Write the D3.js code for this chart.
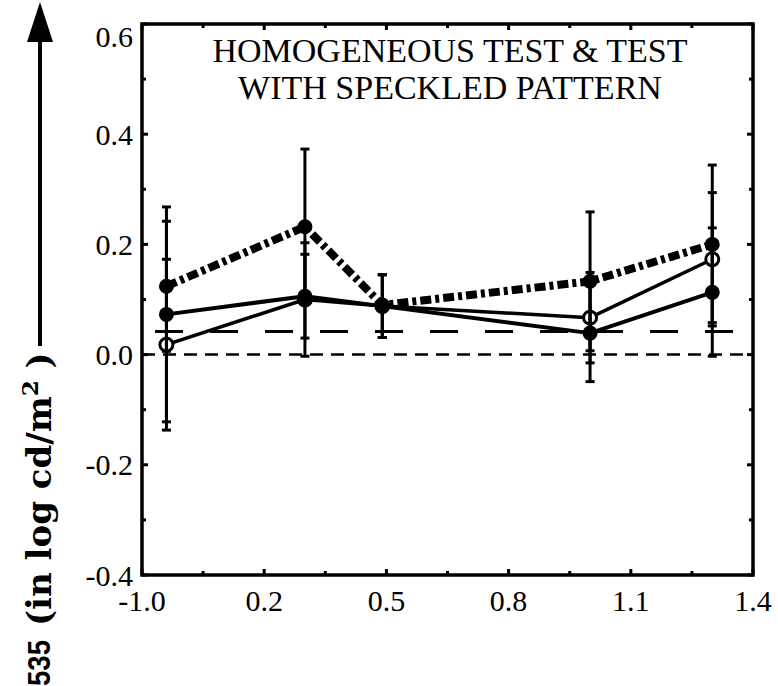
<!DOCTYPE html>
<html>
<head>
<meta charset="utf-8">
<script src="https://cdn.jsdelivr.net/npm/d3@7/dist/d3.min.js"></script>
<style>
  html, body { margin: 0; padding: 0; background: #fff; }
  svg { display: block; }
</style>
</head>
<body>
<script>
// ---------- data ----------
const xValues = [-0.04, 0.30, 0.49, 1.00, 1.30];

const dottedVals = [0.124, 0.232, 0.090, 0.133, 0.200];
const dottedHi   = [0.242, 0.373, 0.145, 0.259, 0.344];
const dottedLo   = [0.006, 0.091, 0.031, 0.007, 0.058];

const solidVals  = [0.073, 0.106, 0.088, 0.039, 0.113];
const solidHi    = [0.268, 0.182, 0.145, 0.127, 0.230];
const solidLo    = [-0.122, 0.030, 0.031, -0.049, -0.003];

const openVals   = [0.018, 0.100, 0.088, 0.067, 0.173];
const openHi     = [0.173, 0.203, 0.145, 0.149, 0.294];
const openLo     = [-0.137, -0.003, 0.031, -0.015, 0.052];

const xTickValues = [-0.1, 0.2, 0.5, 0.8, 1.1, 1.4];
const xTickLabels = ["-1.0", "0.2", "0.5", "0.8", "1.1", "1.4"];
const xMinorTicks = [0.05, 0.35, 0.65, 0.95, 1.25];
const yTickValues = [-0.4, -0.2, 0.0, 0.2, 0.4, 0.6];
const yTickLabels = ["-0.4", "-0.2", "0.0", "0.2", "0.4", "0.6"];
const yMinorTicks = [-0.3, -0.1, 0.1, 0.3, 0.5];

const refLevel = 0.042;
const refFrom = -0.068, refTo = 1.37;
const titleLines = ["HOMOGENEOUS TEST & TEST", "WITH SPECKLED PATTERN"];

// ---------- layout ----------
const W = 778, H = 686;
const pL = 142, pR = 753, pT = 24, pB = 575;

const svg = d3.select("body").append("svg").attr("width", W).attr("height", H);

const x = d3.scaleLinear().domain([-0.1, 1.4]).range([pL, pR]);
const y = d3.scaleLinear().domain([-0.4, 0.6]).range([pB, pT]);

const serif = "'Liberation Serif', 'DejaVu Serif', serif";

// ---------- reference lines ----------
svg.append("line")
  .attr("x1", x(-0.1)).attr("x2", x(1.4))
  .attr("y1", y(0)).attr("y2", y(0))
  .attr("stroke", "#000").attr("stroke-width", 2.5)
  .attr("stroke-dasharray", "13,8");

svg.append("line")
  .attr("x1", x(refFrom)).attr("x2", x(refTo))
  .attr("y1", y(refLevel)).attr("y2", y(refLevel))
  .attr("stroke", "#000").attr("stroke-width", 3)
  .attr("stroke-dasharray", "28,27");

// ---------- series ----------
const series = [
  { vals: openVals, hi: openHi, lo: openLo, dash: null, width: 3.5, open: true },
  { vals: solidVals, hi: solidHi, lo: solidLo, dash: null, width: 4, open: false },
  { vals: dottedVals, hi: dottedHi, lo: dottedLo, dash: "11,4,4,4", width: 8, open: false }
];

const lineGen = d3.line().x(d => x(d[0])).y(d => y(d[1]));

series.forEach(s => {
  const pts = xValues.map((xv, i) => [xv, s.vals[i]]);
  svg.append("path")
    .attr("d", lineGen(pts))
    .attr("fill", "none")
    .attr("stroke", "#000")
    .attr("stroke-width", s.width)
    .attr("stroke-linejoin", "round")
    .attr("stroke-dasharray", s.dash);
});

series.forEach(s => {
  xValues.forEach((xv, i) => {
    svg.append("circle")
      .attr("cx", x(xv)).attr("cy", y(s.vals[i]))
      .attr("r", s.open ? 6.5 : 7.5)
      .attr("fill", s.open ? "#fff" : "#000")
      .attr("stroke", "#000")
      .attr("stroke-width", s.open ? 3 : 0);
  });
});

// error bars on top
series.forEach(s => {
  xValues.forEach((xv, i) => {
    const g = svg.append("g").attr("stroke", "#000").attr("stroke-width", 3);
    g.append("line")
      .attr("x1", x(xv)).attr("x2", x(xv))
      .attr("y1", y(s.hi[i])).attr("y2", y(s.lo[i]));
    [s.hi[i], s.lo[i]].forEach(v => {
      g.append("line")
        .attr("x1", x(xv) - 4.5).attr("x2", x(xv) + 4.5)
        .attr("y1", y(v)).attr("y2", y(v));
    });
  });
});

// ---------- frame & ticks ----------
svg.append("rect")
  .attr("x", pL).attr("y", pT)
  .attr("width", pR - pL).attr("height", pB - pT)
  .attr("fill", "none").attr("stroke", "#000").attr("stroke-width", 3.5);

const tickG = svg.append("g").attr("stroke", "#000").attr("stroke-width", 3);
function xTick(v, len) {
  tickG.append("line").attr("x1", x(v)).attr("x2", x(v)).attr("y1", pB).attr("y2", pB - len);
  tickG.append("line").attr("x1", x(v)).attr("x2", x(v)).attr("y1", pT).attr("y2", pT + len);
}
function yTick(v, len) {
  tickG.append("line").attr("x1", pL).attr("x2", pL + len).attr("y1", y(v)).attr("y2", y(v));
  tickG.append("line").attr("x1", pR).attr("x2", pR - len).attr("y1", y(v)).attr("y2", y(v));
}
xTickValues.forEach(v => xTick(v, 6));
xMinorTicks.forEach(v => xTick(v, 4));
yTickValues.forEach(v => yTick(v, 6));
yMinorTicks.forEach(v => yTick(v, 4));

// tick labels
svg.append("g").selectAll("text").data(xTickValues).join("text")
  .attr("x", d => x(d)).attr("y", 611)
  .attr("text-anchor", "middle")
  .attr("font-family", serif).attr("font-size", 30)
  .text((d, i) => xTickLabels[i]);

svg.append("g").selectAll("text").data(yTickValues).join("text")
  .attr("x", pL - 9)
  .attr("y", d => Math.max(y(d), 36))
  .attr("dy", "0.35em")
  .attr("text-anchor", "end")
  .attr("font-family", serif).attr("font-size", 30)
  .text((d, i) => yTickLabels[i]);

// title
titleLines.forEach((t, i) => {
  svg.append("text")
    .attr("x", 450).attr("y", 62 + i * 37)
    .attr("text-anchor", "middle")
    .attr("font-family", serif).attr("font-size", 34)
    .text(t);
});

// y-axis label with arrow
svg.append("line")
  .attr("x1", 40).attr("x2", 40).attr("y1", 346).attr("y2", 38)
  .attr("stroke", "#000").attr("stroke-width", 4);
svg.append("path")
  .attr("d", "M40,2 L27,42 L53,42 Z")
  .attr("fill", "#000");

const yl = svg.append("text")
  .attr("transform", "translate(51,626) rotate(-90)")
  .attr("font-family", "'DejaVu Serif', serif").attr("font-weight", "bold").attr("font-size", 34);
yl.append("tspan").text("(in log cd/m");
yl.append("tspan").attr("font-size", 23).attr("dy", -13).text("2");
yl.append("tspan").attr("dy", 13).text(" )");

svg.append("text")
  .attr("transform", "translate(50,686) rotate(-90)")
  .attr("font-family", "'Liberation Sans', Arial, sans-serif")
  .attr("font-weight", "bold").attr("font-size", 32)
  .attr("textLength", 46).attr("lengthAdjust", "spacingAndGlyphs")
  .text("535");
</script>
</body>
</html>
